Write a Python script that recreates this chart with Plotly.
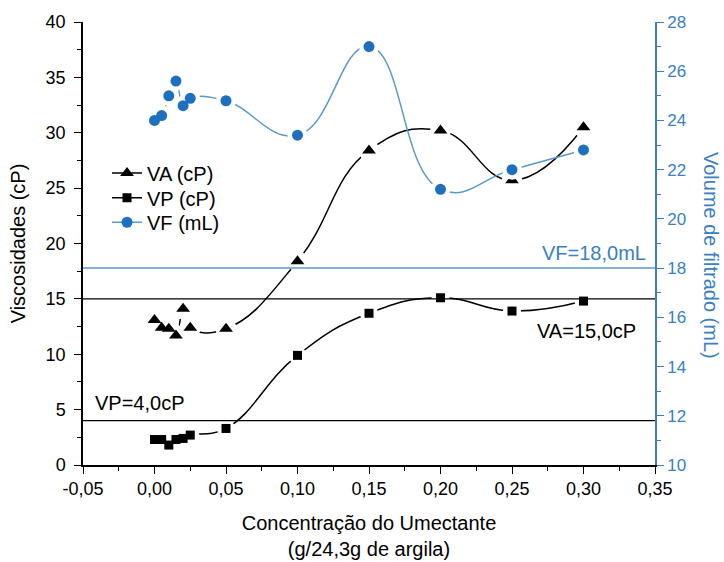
import plotly.graph_objects as go

# Surfactant concentration (g per 24.3 g of clay)
conc = [0.0, 0.005, 0.01, 0.015, 0.02, 0.025, 0.05, 0.10, 0.15, 0.20, 0.25, 0.30]
# Apparent viscosity (cP)
va = [13.1, 12.4, 12.3, 11.7, 14.1, 12.4, 12.3, 18.4, 28.4, 30.2, 25.7, 30.5]
# Plastic viscosity (cP)
vp = [2.3, 2.3, 1.8, 2.3, 2.4, 2.7, 3.3, 9.9, 13.7, 15.1, 13.9, 14.8]
# Filtrate volume (mL)
vf = [24.0, 24.2, 25.0, 25.6, 24.6, 24.9, 24.8, 23.4, 27.0, 21.2, 22.0, 22.8]

# Specification limits
va_limit = 15.0
vp_limit = 4.0
vf_limit = 18.0

x_range = [-0.05, 0.35]
x_ticks = [-0.05, 0.0, 0.05, 0.10, 0.15, 0.20, 0.25, 0.30, 0.35]
x_ticklabels = ["-0,05", "0,00", "0,05", "0,10", "0,15", "0,20", "0,25", "0,30", "0,35"]

BLUE_MARK = "#1f6fbf"
BLUE_LINE = "#5c98c8"
BLUE_AXIS = "#3a80c2"
FONT = "Liberation Sans, Arial, sans-serif"

fig = go.Figure()


def add_series(x, y, name, color, line_color, symbol, size, legend, yaxis="y"):
    # full line + markers (also provides the legend entry)
    fig.add_trace(go.Scatter(
        x=x, y=y, name=name, mode="lines+markers", yaxis=yaxis, legend=legend,
        line=dict(color=line_color, width=1.5, shape="spline", smoothing=1.3),
        marker=dict(symbol=symbol, size=size, color=color),
    ))
    # white halo that opens a small gap in the line around each point
    fig.add_trace(go.Scatter(
        x=x, y=y, mode="markers", yaxis=yaxis, showlegend=False, hoverinfo="skip",
        marker=dict(symbol="circle", size=size + 9, color="white"),
    ))
    # points redrawn on top of the halo
    fig.add_trace(go.Scatter(
        x=x, y=y, name=name, mode="markers", yaxis=yaxis, showlegend=False,
        marker=dict(symbol=symbol, size=size, color=color),
    ))


add_series(conc, va, "VA (cP)", "black", "black", "triangle-up", 12, "legend")
add_series(conc, vp, "VP (cP)", "black", "black", "square", 9, "legend2")
add_series(conc, vf, "VF (mL)", BLUE_MARK, BLUE_LINE, "circle", 11, "legend3", yaxis="y2")

# Horizontal limit lines
fig.add_shape(type="line", xref="paper", x0=0, x1=1, yref="y",
              y0=va_limit, y1=va_limit, line=dict(color="black", width=1.3))
fig.add_shape(type="line", xref="paper", x0=0, x1=1, yref="y",
              y0=vp_limit, y1=vp_limit, line=dict(color="black", width=1.3))
fig.add_shape(type="line", xref="paper", x0=0, x1=1, yref="y2",
              y0=vf_limit, y1=vf_limit, line=dict(color=BLUE_LINE, width=1.5))

fig.add_annotation(xref="paper", yref="paper", x=0.988, y=0.479,
                   xanchor="right", yanchor="middle", showarrow=False,
                   text="VF=18,0mL", font=dict(size=20, color=BLUE_AXIS))
fig.add_annotation(xref="paper", yref="paper", x=0.970, y=0.302,
                   xanchor="right", yanchor="middle", showarrow=False,
                   text="VA=15,0cP", font=dict(size=20, color="black"))
fig.add_annotation(xref="paper", yref="paper", x=0.017, y=0.140,
                   xanchor="left", yanchor="middle", showarrow=False,
                   text="VP=4,0cP", font=dict(size=20, color="black"))
fig.add_annotation(xref="paper", yref="paper", x=1.098, y=0.474,
                   xanchor="center", yanchor="middle", showarrow=False,
                   textangle=90, text="Volume de filtrado (mL)",
                   font=dict(size=20, color=BLUE_AXIS))

legend_style = dict(x=0.042, xanchor="left", yanchor="middle",
                    bgcolor="rgba(0,0,0,0)", font=dict(size=20))

fig.update_layout(
    width=724, height=562,
    margin=dict(l=83, r=69, t=22, b=97, autoexpand=False),
    plot_bgcolor="white", paper_bgcolor="white",
    separators=", ",
    font=dict(family=FONT, size=18, color="black"),
    showlegend=True,
    legend=dict(y=0.659, **legend_style),
    legend2=dict(y=0.603, **legend_style),
    legend3=dict(y=0.548, **legend_style),
    xaxis=dict(
        range=x_range, tickvals=x_ticks, ticktext=x_ticklabels, automargin=False,
        showline=True, linecolor="black", linewidth=1.5,
        ticks="outside", ticklen=7, tickwidth=1.3, tickcolor="black",
        minor=dict(ticks="outside", ticklen=4, dtick=0.025, tickcolor="black", tickwidth=1.3),
        showgrid=False, zeroline=False,
        title=dict(text="Concentração do Umectante<br>(g/24,3g de argila)",
                   font=dict(size=20), standoff=18),
    ),
    xaxis2=dict(
        range=x_range, overlaying="x", side="top", anchor="y", automargin=False,
        tick0=-0.05, dtick=0.05, showticklabels=False,
        showline=True, linecolor="black", linewidth=1.5,
        ticks="inside", ticklen=7, tickwidth=1.3, tickcolor="black",
        minor=dict(ticks="inside", ticklen=4, dtick=0.025, tickcolor="black", tickwidth=1.3),
        showgrid=False, zeroline=False,
    ),
    yaxis=dict(
        range=[0, 40], dtick=5, automargin=False,
        showline=True, linecolor="black", linewidth=1.5,
        ticks="outside", ticklen=7, tickwidth=1.3, tickcolor="black",
        minor=dict(ticks="outside", ticklen=4, dtick=2.5, tickcolor="black", tickwidth=1.3),
        showgrid=False, zeroline=False, ticklabelstandoff=5,
        title=dict(text="Viscosidades (cP)", font=dict(size=20), standoff=15),
    ),
    yaxis2=dict(
        range=[10, 28], dtick=2, overlaying="y", side="right", anchor="x", automargin=False,
        showline=True, linecolor=BLUE_AXIS, linewidth=1.8,
        ticks="outside", ticklen=7, tickwidth=1.3, tickcolor=BLUE_AXIS,
        minor=dict(ticks="outside", ticklen=4, dtick=1, tickcolor=BLUE_AXIS, tickwidth=1.3),
        tickfont=dict(color=BLUE_AXIS, size=17),
        showgrid=False, zeroline=False,
    ),
)

fig.write_html("out.html")
